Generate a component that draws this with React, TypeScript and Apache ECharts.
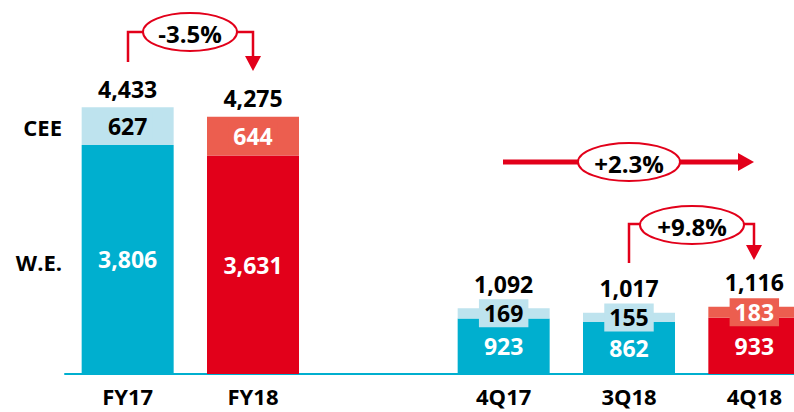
import React, { useEffect, useRef } from "react";
import * as echarts from "echarts";

const categories = ["FY17", "FY18", "", "4Q17", "3Q18", "4Q18"];
const weValues = [3806, 3631, null, 923, 862, 933];
const ceeValues = [627, 644, null, 169, 155, 183];
const totals = [4433, 4275, null, 1092, 1017, 1116];
const isRed = [false, true, false, false, false, true];

const CYAN = "#00AFCF";
const LIGHT = "#BEE3EE";
const RED = "#E2001A";
const SALMON = "#EC5E4F";
const FONT = "'Open Sans', 'Noto Sans', sans-serif";

const fmt = (v: number) => v.toLocaleString("en-US");

export default function App() {
  const ref = useRef<HTMLDivElement>(null);
  useEffect(() => {
    if (!ref.current) return;
    const chart = echarts.init(ref.current, null, { renderer: "svg" });
    const redLine = { stroke: RED, lineWidth: 2.5, fill: null };
    const ellipseStyle = { fill: "#fff", stroke: RED, lineWidth: 2 };
    const pctText = (x: number, y: number, t: string) => ({
      type: "text",
      x,
      y,
      z: 20,
      style: {
        text: t,
        fill: "#000",
        font: `bold 24px ${FONT}`,
        textAlign: "center",
        textVerticalAlign: "middle",
      },
    });
    chart.setOption({
      animation: false,
      grid: { left: 65, width: 752, top: 73, bottom: 38, outerBoundsMode: "none", containLabel: false },
      xAxis: {
        type: "category",
        data: categories,
        axisLine: { show: true, lineStyle: { color: CYAN, width: 2 } },
        axisTick: { show: false },
        axisLabel: {
          color: "#000",
          fontFamily: FONT,
          fontWeight: "bold",
          fontSize: 22,
          margin: 11,
        },
      },
      yAxis: { type: "value", min: 0, max: 5000, show: false, splitLine: { show: false } },
      series: [
        {
          type: "bar",
          name: "W.E.",
          stack: "a",
          barWidth: 92,
          data: weValues.map((v, i) => ({
            value: v,
            itemStyle: { color: isRed[i] ? RED : CYAN },
          })),
          label: {
            show: true,
            position: "inside",
            color: "#fff",
            fontFamily: FONT,
            fontWeight: "bold",
            fontSize: 23,
            formatter: (p: any) => fmt(p.value),
          },
        },
        {
          type: "bar",
          name: "CEE",
          stack: "a",
          barWidth: 92,
          data: ceeValues.map((v, i) => ({
            value: v,
            itemStyle: { color: isRed[i] ? SALMON : LIGHT },
            label: {
              color: isRed[i] ? "#fff" : "#000",
              backgroundColor: isRed[i] ? SALMON : LIGHT,
            },
          })),
          label: {
            show: true,
            position: "inside",
            fontFamily: FONT,
            fontWeight: "bold",
            fontSize: 23,
            padding: [3, 5, 2, 5],
            formatter: (p: any) => fmt(p.value),
          },
        },
        {
          type: "bar",
          name: "Total",
          stack: "a",
          barWidth: 92,
          itemStyle: { color: "rgba(0,0,0,0)" },
          data: totals.map((v, i) =>
            v == null
              ? null
              : {
                  value: 0,
                  label: { distance: i < 2 ? 7 : 13 },
                }
          ),
          label: {
            show: true,
            position: "top",
            color: "#000",
            fontFamily: FONT,
            fontWeight: "bold",
            fontSize: 23,
            formatter: (p: any) => (totals[p.dataIndex] == null ? "" : fmt(totals[p.dataIndex] as number)),
          },
        },
      ],
      graphic: [
        {
          type: "text",
          x: 62,
          y: 127,
          style: { text: "CEE", fill: "#000", font: `bold 22px ${FONT}`, textAlign: "right", textVerticalAlign: "middle" },
        },
        {
          type: "text",
          x: 62,
          y: 262,
          style: { text: "W.E.", fill: "#000", font: `bold 22px ${FONT}`, textAlign: "right", textVerticalAlign: "middle" },
        },
        // -3.5%
        { type: "polyline", shape: { points: [[128, 62], [128, 32], [145, 32]] }, style: redLine },
        { type: "polyline", shape: { points: [[235, 32], [253, 32], [253, 57]] }, style: redLine },
        { type: "polygon", shape: { points: [[245, 56], [261, 56], [253, 71]] }, style: { fill: RED } },
        { type: "ellipse", shape: { cx: 190, cy: 32, rx: 47, ry: 19 }, style: ellipseStyle, z: 10 },
        pctText(190, 33, "-3.5%"),
        // +2.3%
        { type: "line", shape: { x1: 503, y1: 162, x2: 742, y2: 162 }, style: { stroke: RED, lineWidth: 5 } },
        { type: "polygon", shape: { points: [[738, 153], [738, 171], [754, 162]] }, style: { fill: RED } },
        { type: "ellipse", shape: { cx: 629, cy: 162, rx: 51, ry: 19 }, style: ellipseStyle, z: 10 },
        pctText(629, 163, "+2.3%"),
        // +9.8%
        { type: "polyline", shape: { points: [[629, 263], [629, 224], [642, 224]] }, style: redLine },
        { type: "polyline", shape: { points: [[742, 224], [754, 224], [754, 246]] }, style: redLine },
        { type: "polygon", shape: { points: [[746, 245], [762, 245], [754, 260]] }, style: { fill: RED } },
        { type: "ellipse", shape: { cx: 692, cy: 225, rx: 52, ry: 19 }, style: ellipseStyle, z: 10 },
        pctText(692, 226, "+9.8%"),
      ],
    });
    return () => chart.dispose();
  }, []);
  return (
    <div
      ref={ref}
      style={{ position: "fixed", left: 0, top: 0, width: 794, height: 412, background: "#fff" }}
    />
  );
}
